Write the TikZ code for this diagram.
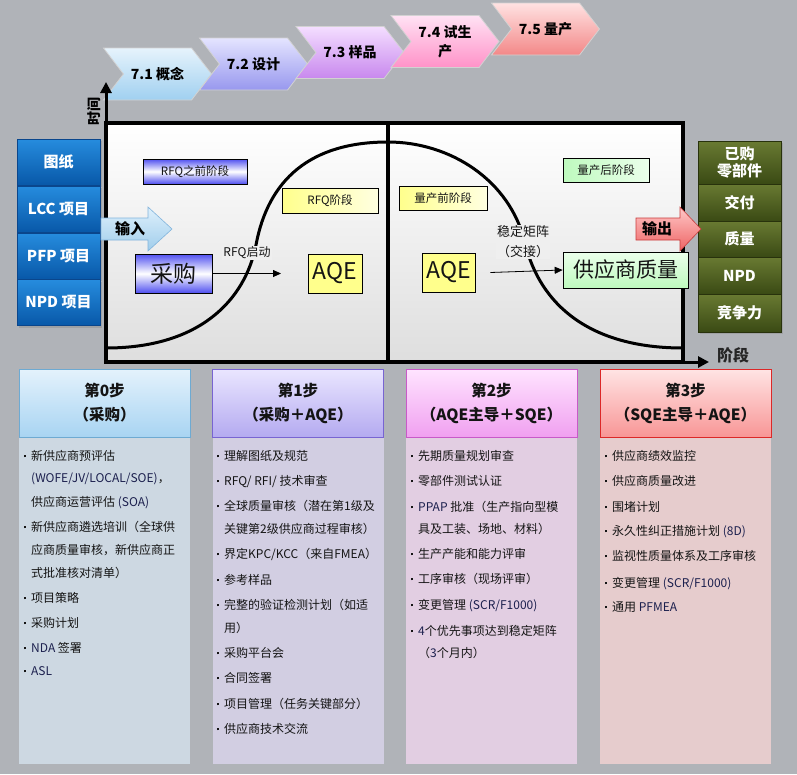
\documentclass[tikz,border=0pt]{standalone}
\usepackage{fontspec}
\setmainfont{Noto Sans CJK SC}
\usetikzlibrary{shapes.symbols,arrows.meta,shadows}
\definecolor{bg}{RGB}{176,179,184}
\definecolor{c1t}{RGB}{230,243,252}\definecolor{c1b}{RGB}{160,208,240}
\definecolor{c2t}{RGB}{228,228,255}\definecolor{c2b}{RGB}{152,152,238}
\definecolor{c3t}{RGB}{244,222,255}\definecolor{c3b}{RGB}{200,136,238}
\definecolor{c4t}{RGB}{255,226,244}\definecolor{c4b}{RGB}{255,146,200}
\definecolor{c5t}{RGB}{255,226,226}\definecolor{c5b}{RGB}{243,136,136}
\definecolor{bluet}{RGB}{38,140,222}\definecolor{blueb}{RGB}{8,88,168}\definecolor{bluee}{RGB}{10,70,140}
\definecolor{greent}{RGB}{105,122,50}\definecolor{greenb}{RGB}{58,74,20}\definecolor{greene}{RGB}{40,50,12}
\definecolor{panelb}{RGB}{222,222,222}
\definecolor{labfill}{RGB}{239,239,239}
\definecolor{bbar}{RGB}{80,80,240}
\definecolor{ylw}{RGB}{255,255,140}\definecolor{ylwl}{RGB}{255,255,225}
\definecolor{grn}{RGB}{190,250,190}\definecolor{grnl}{RGB}{235,255,235}
\definecolor{inpt}{RGB}{222,240,252}\definecolor{inpb}{RGB}{160,205,235}\definecolor{inpe}{RGB}{130,180,220}
\definecolor{outt}{RGB}{255,200,200}\definecolor{outb}{RGB}{238,100,100}\definecolor{oute}{RGB}{200,60,60}
\definecolor{h0t}{RGB}{228,242,252}\definecolor{h0b}{RGB}{168,212,242}\definecolor{h0e}{RGB}{110,170,210}
\definecolor{h1t}{RGB}{234,230,255}\definecolor{h1b}{RGB}{180,170,240}\definecolor{h1e}{RGB}{120,100,210}
\definecolor{h2t}{RGB}{255,228,255}\definecolor{h2b}{RGB}{240,160,240}\definecolor{h2e}{RGB}{200,90,200}
\definecolor{h3t}{RGB}{255,228,228}\definecolor{h3b}{RGB}{248,150,150}\definecolor{h3e}{RGB}{220,40,40}
\definecolor{bd0}{RGB}{205,216,226}\definecolor{bd1}{RGB}{210,206,226}\definecolor{bd2}{RGB}{226,206,226}\definecolor{bd3}{RGB}{230,204,205}
\definecolor{txt}{RGB}{20,20,20}\definecolor{lat}{RGB}{28,32,78}
\newcommand\ltn[1]{\textcolor{lat}{#1}}
\newcommand\bulmark{\makebox[7pt][l]{\raisebox{3.2pt}{\rule{2.2pt}{2.2pt}}}}
\newcommand\bitem[4]{\node[btext] (#1) at (#2,#3+4.6) {\bulmark#4};}
\newcommand\citem[4]{\node[btext] (#1) at (#2+7,#3+4.6) {#4};}
\begin{document}
\begin{tikzpicture}[x=1pt,y=-1pt,
  chev/.style={signal, signal from=west, signal to=east, signal pointer angle=105,
    minimum width=108pt, minimum height=52pt, inner sep=0pt, draw=white!65!gray,
    line width=0.8pt, align=center, text=black, font=\bfseries\fontsize{14}{19}\selectfont},
  sidebox/.style={rectangle, minimum width=83pt, inner sep=0pt, text=white, align=center,
    font=\bfseries\fontsize{15}{18}\selectfont, line width=0.6pt,
    drop shadow={shadow xshift=2pt, shadow yshift=-2pt, opacity=0.35}},
  bluebox/.style={sidebox, top color=bluet, bottom color=blueb, draw=bluee, minimum height=46pt},
  greenbox/.style={sidebox, top color=greent, bottom color=greenb, draw=greene},
  tag/.style={rectangle, draw=black, line width=0.7pt, inner sep=0pt, text=txt},
  bwtag/.style={tag, top color=bbar, bottom color=bbar, middle color=white},
  ytag/.style={tag, left color=ylw, right color=ylwl},
  gtag/.style={tag, left color=grn, right color=grnl},
  lab/.style={fill=labfill, inner sep=1pt, text=txt, font=\fontsize{12}{15}\selectfont},
  conn/.style={line width=0.8pt, -{Triangle[length=8pt,width=7pt]}},
  axis/.style={line width=3pt, -{Triangle[length=11pt,width=11pt]}},
  curve/.style={line width=3pt},
  hdr/.style={rectangle, minimum width=171pt, minimum height=68pt, inner sep=0pt, align=center,
    line width=0.8pt, text=txt, font=\bfseries\fontsize{15.5}{24}\selectfont},
  body/.style={rectangle, minimum width=171pt, minimum height=327pt, inner sep=0pt},
  btext/.style={anchor=base west, inner sep=0pt, text=txt, font=\fontsize{12}{14}\selectfont}
]
\path[use as bounding box, fill=bg] (0,0) rectangle (797,774);

% phase chevrons
\node[chev, top color=c1t, bottom color=c1b] (p1) at (157.5,74) {7.1 概念};
\node[chev, top color=c2t, bottom color=c2b] (p2) at (253.5,64) {7.2 设计};
\node[chev, top color=c3t, bottom color=c3b] (p3) at (350,52.5) {7.3 样品};
\node[chev, top color=c4t, bottom color=c4b] (p4) at (445,41.5) {7.4 试生\\产};
\node[chev, top color=c5t, bottom color=c5b] (p5) at (545.5,29) {7.5 量产};

% main panel
\path[top color=white, bottom color=panelb] (106,123) rectangle (683,362);
\draw[curve] (106,348) .. controls (200,348) and (245,300) .. (256,245)
  .. controls (268,180) and (310,142) .. (388,142);
\draw[curve] (388,142) .. controls (450,142) and (510,180) .. (525,243)
  .. controls (540,305) and (590,348) .. (683,348);
\node[lab] (rfqs) at (247,253) {RFQ启动};
\node[lab, align=center, font=\fontsize{13}{20}\selectfont] (wdjz) at (523,242) {稳定矩阵\\（交接）};
\draw[line width=4pt] (106,123) rectangle (683,362);
\draw[line width=4pt] (388,123) -- (388,362);
\draw[axis] (106,125) -- (106,82);
\draw[axis] (104,362) -- (709,362);
\node[font=\bfseries\fontsize{14}{16}\selectfont, rotate=90, text=black] (tl) at (94,111) {时间};
\node[font=\bfseries\fontsize{16}{18}\selectfont, text=black!85] (jd) at (733,355) {阶段};

% tags inside panel
\node[bwtag, minimum width=104pt, minimum height=25pt, font=\fontsize{11.5}{14}\selectfont] (pre) at (195,171.5) {RFQ之前阶段};
\node[ytag, minimum width=96pt, minimum height=25pt, font=\fontsize{11.5}{14}\selectfont] (rfq) at (330,200.5) {RFQ阶段};
\node[bwtag, minimum width=77pt, minimum height=39pt, font=\fontsize{23}{26}\selectfont] (cg) at (173.5,273.5) {采购};
\node[tag, fill=ylw, minimum width=54pt, minimum height=39pt, font=\fontsize{23}{26}\selectfont] (aqe1) at (335,273.5) {AQE};
\node[ytag, minimum width=88pt, minimum height=24pt, font=\fontsize{11.5}{14}\selectfont] (mpre) at (443,198) {量产前阶段};
\node[gtag, minimum width=86pt, minimum height=24pt, font=\fontsize{11.5}{14}\selectfont] (mpost) at (606,170) {量产后阶段};
\node[tag, fill=ylw, minimum width=53pt, minimum height=39pt, font=\fontsize{23}{26}\selectfont] (aqe2) at (448.5,272.5) {AQE};
\node[tag, top color=grnl, bottom color=grn, minimum width=125pt, minimum height=36pt, font=\fontsize{21}{24}\selectfont] (sq) at (625.5,270) {供应商质量};
\coordinate (rfqend) at (281,273.5);
\draw[conn] (cg.east) -- (rfqend);
\draw[conn] ([xshift=15pt]aqe2.east) -- (sq.west);

% left inputs
\node[bluebox] (in1) at (58.5,162) {图纸};
\node[bluebox] (in2) at (58.5,209) {LCC 项目};
\node[bluebox] (in3) at (58.5,256) {PFP 项目};
\node[bluebox] (in4) at (58.5,302.5) {NPD 项目};
\path[draw=inpe, line width=0.6pt, top color=inpt, bottom color=inpb]
  (101,218) -- (148,218) -- (148,207) -- (172,229) -- (148,251) -- (148,240) -- (101,240) -- cycle;
\node[font=\bfseries\fontsize{15}{18}\selectfont, text=black] (inp) at (130,229) {输入};

% right outputs
\node[greenbox, minimum height=43pt, font=\bfseries\fontsize{15}{17}\selectfont] (o1) at (739.5,162.5) {已购\\零部件};
\node[greenbox, minimum height=37pt] (o2) at (739.5,202.5) {交付};
\node[greenbox, minimum height=36pt] (o3) at (739.5,239) {质量};
\node[greenbox, minimum height=37pt] (o4) at (739.5,275.5) {NPD};
\node[greenbox, minimum height=38pt] (o5) at (739.5,313) {竞争力};
\path[draw=oute, line width=0.6pt, top color=outt, bottom color=outb]
  (636,218) -- (680,218) -- (680,207) -- (701,229) -- (680,251) -- (680,240) -- (636,240) -- cycle;
\node[font=\bfseries\fontsize{15}{18}\selectfont, text=black] (outp) at (657,229) {输出};

% step columns
\node[body, fill=bd0] (b0) at (104.5,600.5) {};
\node[body, fill=bd1] (b1) at (298,600.5) {};
\node[body, fill=bd2] (b2) at (491.5,600.5) {};
\node[body, fill=bd3] (b3) at (685.5,600.5) {};
\node[hdr, top color=h0t, bottom color=h0b, draw=h0e] (s0) at (104.5,403) {第0步\\（采购）};
\node[hdr, top color=h1t, bottom color=h1b, draw=h1e] (s1) at (298,403) {第1步\\（采购＋AQE）};
\node[hdr, top color=h2t, bottom color=h2b, draw=h2e] (s2) at (491.5,403) {第2步\\（AQE主导＋SQE）};
\node[hdr, top color=h3t, bottom color=h3b, draw=h3e] (s3) at (685.5,403) {第3步\\（SQE主导＋AQE）};

% column 0
\bitem{a1}{24}{456}{新供应商预评估}
\citem{a2}{24}{478}{\ltn{(WOFE/JV/LOCAL/SOE)}，}
\citem{a3}{24}{502}{供应商运营评估 \ltn{(SOA)}}
\bitem{a4}{24}{527}{新供应商遴选培训（全球供}
\citem{a5}{24}{550}{应商质量审核，新供应商正}
\citem{a6}{24}{573}{式批准核对清单）}
\bitem{a7}{24}{598}{项目策略}
\bitem{a8}{24}{623}{采购计划}
\bitem{a9}{24}{648}{\ltn{NDA} 签署}
\bitem{a10}{24}{671}{\ltn{ASL}}
% column 1
\bitem{e1}{217}{456}{理解图纸及规范}
\bitem{e2}{217}{481}{RFQ/ RFI/ 技术审查}
\bitem{e3}{217}{506}{全球质量审核（潜在第1级及}
\citem{e4}{217}{529}{关键第2级供应商过程审核）}
\bitem{e5}{217}{554}{界定KPC/KCC（来自FMEA）}
\bitem{e6}{217}{580}{参考样品}
\bitem{e7}{217}{605}{完整的验证检测计划（如适}
\citem{e8}{217}{628}{用）}
\bitem{e9}{217}{653}{采购平台会}
\bitem{e10}{217}{678}{合同签署}
\bitem{e11}{217}{704}{项目管理（任务关键部分）}
\bitem{e12}{217}{729}{供应商技术交流}
% column 2
\bitem{f1}{411}{456}{先期质量规划审查}
\bitem{f2}{411}{481}{零部件测试认证}
\bitem{f3}{411}{507}{\ltn{PPAP} 批准（生产指向型模}
\citem{f4}{411}{529}{具及工装、场地、材料）}
\bitem{f5}{411}{554}{生产产能和能力评审}
\bitem{f6}{411}{579}{工序审核（现场评审）}
\bitem{f7}{411}{605}{变更管理 \ltn{(SCR/F1000)}}
\bitem{f8}{411}{631}{\ltn{4}个优先事项达到稳定矩阵}
\citem{f9}{411}{653}{（\ltn{3}个月内）}
% column 3
\bitem{g1}{605}{456}{供应商绩效监控}
\bitem{g2}{605}{481}{供应商质量改进}
\bitem{g3}{605}{507}{围堵计划}
\bitem{g4}{605}{531}{永久性纠正措施计划 \ltn{(8D)}}
\bitem{g5}{605}{556}{监视性质量体系及工序审核}
\bitem{g6}{605}{583}{变更管理 \ltn{(SCR/F1000)}}
\bitem{g7}{605}{607}{通用 \ltn{PFMEA}}
\end{tikzpicture}
\end{document}
